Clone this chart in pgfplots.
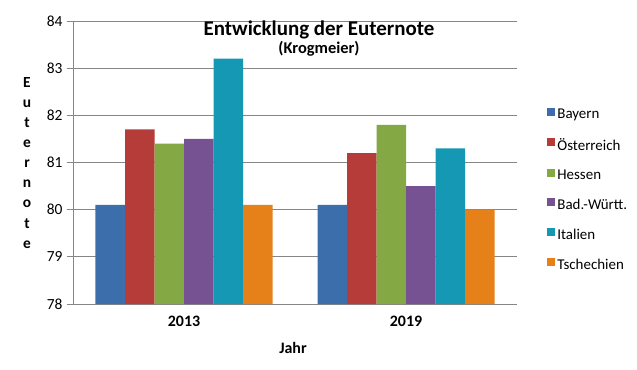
\documentclass[border=0pt]{standalone}
\usepackage{fontspec}
\setmainfont{Carlito}
\usepackage{pgfplots}
\pgfplotsset{compat=1.18}
\definecolor{cBay}{HTML}{3C6EAC}
\definecolor{cOes}{HTML}{B63C3A}
\definecolor{cHes}{HTML}{84A843}
\definecolor{cBad}{HTML}{775293}
\definecolor{cIta}{HTML}{1598B3}
\definecolor{cTsc}{HTML}{E6811A}
\definecolor{gridgray}{HTML}{868686}
\begin{document}
\begin{tikzpicture}
\useasboundingbox (-73bp,-66bp) rectangle (564bp,304bp);
\begin{axis}[
  at={(0bp,0bp)}, anchor=south west,
  scale only axis, width=444bp, height=283bp,
  ymin=78, ymax=84, ytick={78,79,80,81,82,83,84},
  xmin=-0.5, xmax=1.5, xtick={0,1}, xticklabels={2013,2019},
  ybar=0pt, bar width=29.5bp,
  axis x line*=bottom, axis y line*=left,
  axis line style={draw=gridgray, line width=0.8pt, -},
  ymajorgrids, grid style={draw=gridgray, line width=0.8pt},
  /pgf/number format/assume math mode=true,
  yticklabel style={font=\fontsize{15.5}{17}\selectfont, xshift=-1bp},
  xticklabel style={font=\bfseries\fontsize{16}{18}\selectfont, yshift=-3bp},
  ytick style={draw=gridgray, line width=0.8pt},
  tick align=outside, major tick length=6bp,
  xtick style={draw=none},
  extra x ticks={-0.5,0.5,1.5}, extra x tick labels={},
  extra x tick style={grid=none, tick style={draw=gridgray, line width=0.8pt}, major tick length=5bp},
  legend style={at={(1.068,0.703)}, anchor=north west, draw=none, fill=none,
    font=\fontsize{15}{17}\selectfont, row sep=14.2bp, inner xsep=0pt},
  legend cell align=left,
  legend image code/.code={\fill[#1] (0bp,-1bp) rectangle (8bp,7bp);},
  clip=false,
]
\addplot[fill=cBay, draw=none] coordinates {(0,80.1) (1,80.1)};
\addplot[fill=cOes, draw=none] coordinates {(0,81.7) (1,81.2)};
\addplot[fill=cHes, draw=none] coordinates {(0,81.4) (1,81.8)};
\addplot[fill=cBad, draw=none] coordinates {(0,81.5) (1,80.5)};
\addplot[fill=cIta, draw=none] coordinates {(0,83.2) (1,81.3)};
\addplot[fill=cTsc, draw=none] coordinates {(0,80.1) (1,80.0)};
\legend{Bayern,Österreich,Hessen,Bad.-Württ.,Italien,Tschechien}
\end{axis}
\node[anchor=base, font=\bfseries\fontsize{21}{25}\selectfont] at (246bp,268bp) {Entwicklung der Euternote};
\node[anchor=base, font=\bfseries\fontsize{16.5}{19}\selectfont] at (246bp,250bp) {(Krogmeier)};
\node[align=center, font=\bfseries\fontsize{15.5}{20.1}\selectfont] at (-46bp,141bp) {E\\u\\t\\e\\r\\n\\o\\t\\e};
\node[anchor=base, font=\bfseries\fontsize{16}{18}\selectfont] at (220bp,-49bp) {Jahr};
\end{tikzpicture}
\end{document}
